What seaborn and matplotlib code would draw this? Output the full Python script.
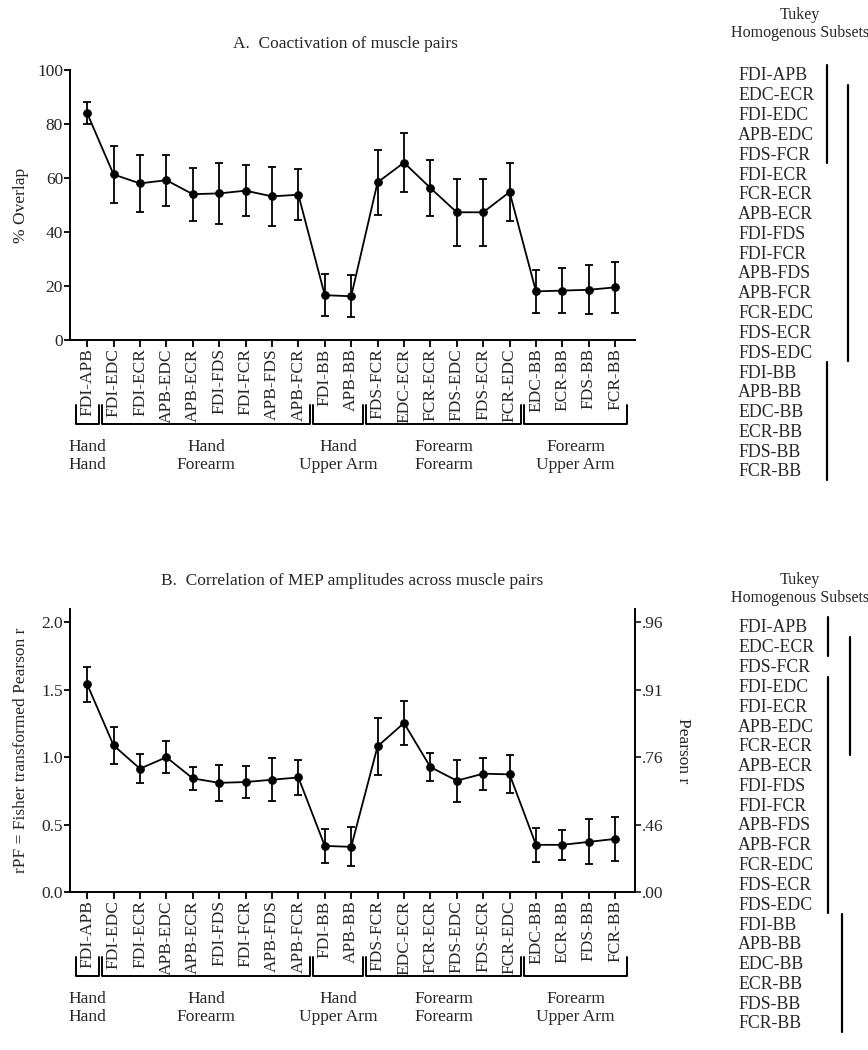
import pandas as pd
import seaborn as sns
import matplotlib.pyplot as plt
from matplotlib.transforms import blended_transform_factory

# Muscle pairs in plotting order
pairs = ['FDI-APB', 'FDI-EDC', 'FDI-ECR', 'APB-EDC', 'APB-ECR', 'FDI-FDS', 'FDI-FCR',
         'APB-FDS', 'APB-FCR', 'FDI-BB', 'APB-BB', 'FDS-FCR', 'EDC-ECR', 'FCR-ECR',
         'FDS-EDC', 'FDS-ECR', 'FCR-EDC', 'EDC-BB', 'ECR-BB', 'FDS-BB', 'FCR-BB']

# A. % overlap (mean, error)
overlap_mean = [84.0, 61.3, 58.0, 59.2, 54.0, 54.3, 55.3, 53.2, 53.8, 16.6, 16.2,
                58.4, 65.7, 56.3, 47.3, 47.3, 54.8, 18.0, 18.3, 18.6, 19.5]
overlap_err = [4.1, 10.5, 10.7, 9.5, 9.8, 11.2, 9.5, 11.0, 9.5, 7.8, 7.8,
               12.1, 10.9, 10.3, 12.4, 12.4, 10.7, 8.1, 8.3, 9.0, 9.4]

# B. Fisher transformed Pearson r (mean, error)
rpf_mean = [1.542, 1.088, 0.915, 1.0, 0.843, 0.81, 0.816, 0.833, 0.85, 0.342, 0.335,
            1.081, 1.254, 0.927, 0.826, 0.878, 0.873, 0.35, 0.35, 0.372, 0.394]
rpf_err = [0.13, 0.14, 0.107, 0.12, 0.088, 0.135, 0.12, 0.16, 0.13, 0.127, 0.145,
           0.21, 0.16, 0.107, 0.157, 0.12, 0.14, 0.124, 0.11, 0.167, 0.163]
pearson_ticks = [0.0, 0.5, 1.0, 1.5, 2.0]
pearson_labels = ['.00', '.46', '.76', '.91', '.96']

# Region groups under the x axis
group_names = ['Hand\nHand', 'Hand\nForearm', 'Hand\nUpper Arm', 'Forearm\nForearm', 'Forearm\nUpper Arm']
group_start = [0, 1, 9, 11, 17]
group_end = [0, 8, 10, 16, 20]

# Tukey homogenous subsets
tukey_a = ['FDI-APB', 'EDC-ECR', 'FDI-EDC', 'APB-EDC', 'FDS-FCR', 'FDI-ECR', 'FCR-ECR',
           'APB-ECR', 'FDI-FDS', 'FDI-FCR', 'APB-FDS', 'APB-FCR', 'FCR-EDC', 'FDS-ECR',
           'FDS-EDC', 'FDI-BB', 'APB-BB', 'EDC-BB', 'ECR-BB', 'FDS-BB', 'FCR-BB']
tukey_a_sets = [(0, 4), (1, 14), (15, 20)]
tukey_b = ['FDI-APB', 'EDC-ECR', 'FDS-FCR', 'FDI-EDC', 'FDI-ECR', 'APB-EDC', 'FCR-ECR',
           'APB-ECR', 'FDI-FDS', 'FDI-FCR', 'APB-FDS', 'APB-FCR', 'FCR-EDC', 'FDS-ECR',
           'FDS-EDC', 'FDI-BB', 'APB-BB', 'EDC-BB', 'ECR-BB', 'FDS-BB', 'FCR-BB']
tukey_b_sets = [(0, 1), (1, 6), (3, 14), (15, 20)]

sns.set_style('ticks')
plt.rcParams['font.family'] = ['Liberation Serif', 'DejaVu Serif']
plt.rcParams['font.size'] = 12.5

W, H = 868, 1050
fig = plt.figure(figsize=(W / 100, H / 100), dpi=100)


def px(x, y):
    return x / W, 1 - y / H


def axes_rect(left, top, right, bottom):
    return [left / W, 1 - bottom / H, (right - left) / W, (bottom - top) / H]


def draw_panel(ax, mean, err):
    df = pd.DataFrame({'idx': range(len(pairs)), 'mean': mean})
    sns.lineplot(data=df, x='idx', y='mean', ax=ax, color='black', lw=1.3,
                 marker='o', markersize=5.5, markeredgecolor='black')
    ax.errorbar(df['idx'], df['mean'], yerr=err, fmt='none', ecolor='black',
                elinewidth=1.3, capsize=2.6, capthick=1.3)
    ax.set_xlim(-0.65, 20.75)
    ax.set_xticks(range(len(pairs)))
    ax.set_xticklabels(pairs, rotation=90, fontsize=12.5)
    ax.set_xlabel('')
    for s in ['left', 'bottom', 'right', 'top']:
        ax.spines[s].set_linewidth(1.4)
        ax.spines[s].set_color('black')
    ax.tick_params(axis='both', direction='out', width=1.3, color='black',
                   labelsize=12.5, pad=1)
    ax.tick_params(axis='x', length=5)
    ax.tick_params(axis='y', length=4)


def draw_groups(ax, top_y, label_y):
    tr = blended_transform_factory(ax.transData, fig.transFigure)
    y0 = 1 - top_y / H
    y1 = 1 - (top_y + 19) / H
    for name, a, b in zip(group_names, group_start, group_end):
        xa, xb = a - 0.44, b + 0.44
        ax.plot([xa, xa, xb, xb], [y0, y1, y1, y0], color='black', lw=1.4,
                transform=tr, clip_on=False)
        ax.text((a + b) / 2, 1 - label_y / H, name, transform=tr, ha='center',
                va='center', fontsize=12.5, linespacing=1.15)


def draw_tukey(names, sets, cols, title_y, first_y):
    fig.text(*px(800, title_y), 'Tukey', ha='center', va='center', fontsize=11.5)
    fig.text(*px(800, title_y + 18), 'Homogenous Subsets', ha='center', va='center', fontsize=11.5)
    step = 19.8
    for k, name in enumerate(names):
        fig.text(*px(738, first_y + k * step), name, ha='left', va='center', fontsize=12.8)
    for (a, b), cx in zip(sets, cols):
        ya = first_y + (a - 0.55) * step
        yb = first_y + (b + 0.4) * step
        fig.add_artist(plt.Line2D([cx / W, cx / W], [1 - ya / H, 1 - yb / H],
                                  color='black', lw=1.6))


# Panel A
axA = fig.add_axes(axes_rect(70, 70, 635, 340))
draw_panel(axA, overlap_mean, overlap_err)
axA.set_ylim(0, 100)
axA.set_yticks(range(0, 101, 20))
axA.set_ylabel('% Overlap', fontsize=12.5)
axA.yaxis.set_label_coords(-0.072, 0.5)
sns.despine(ax=axA)
draw_groups(axA, 405, 456)
fig.text(*px(345, 44), 'A.  Coactivation of muscle pairs', ha='center', va='center', fontsize=12.5)
draw_tukey(tukey_a, tukey_a_sets, [827, 848, 827], 15, 76)

# Panel B
axB = fig.add_axes(axes_rect(70, 609, 635, 892))
draw_panel(axB, rpf_mean, rpf_err)
axB.set_ylim(0, 2.1)
axB.set_yticks([0, 0.5, 1.0, 1.5, 2.0])
axB.set_yticklabels(['0.0', '0.5', '1.0', '1.5', '2.0'])
axB.set_ylabel('rPF = Fisher transformed Pearson r', fontsize=12.5)
axB.yaxis.set_label_coords(-0.072, 0.5)
axB.spines['top'].set_visible(False)
axB.spines['right'].set_visible(False)
axR = axB.twinx()
axR.set_ylim(axB.get_ylim())
axR.set_yticks(pearson_ticks)
axR.set_yticklabels(pearson_labels)
axR.set_ylabel('Pearson r', fontsize=12.5, rotation=270, va='bottom')
axR.yaxis.set_label_coords(1.07, 0.5)
for s in ['left', 'bottom', 'top']:
    axR.spines[s].set_visible(False)
axR.spines['right'].set_linewidth(1.4)
axR.spines['right'].set_color('black')
axR.tick_params(axis='y', direction='out', length=4, width=1.3, labelsize=12.5, pad=1)
draw_groups(axB, 957, 1008)
fig.text(*px(352, 581), 'B.  Correlation of MEP amplitudes across muscle pairs',
         ha='center', va='center', fontsize=12.5)
draw_tukey(tukey_b, tukey_b_sets, [828, 850, 828, 842], 580, 628)

fig.savefig('out.png', dpi=100)
